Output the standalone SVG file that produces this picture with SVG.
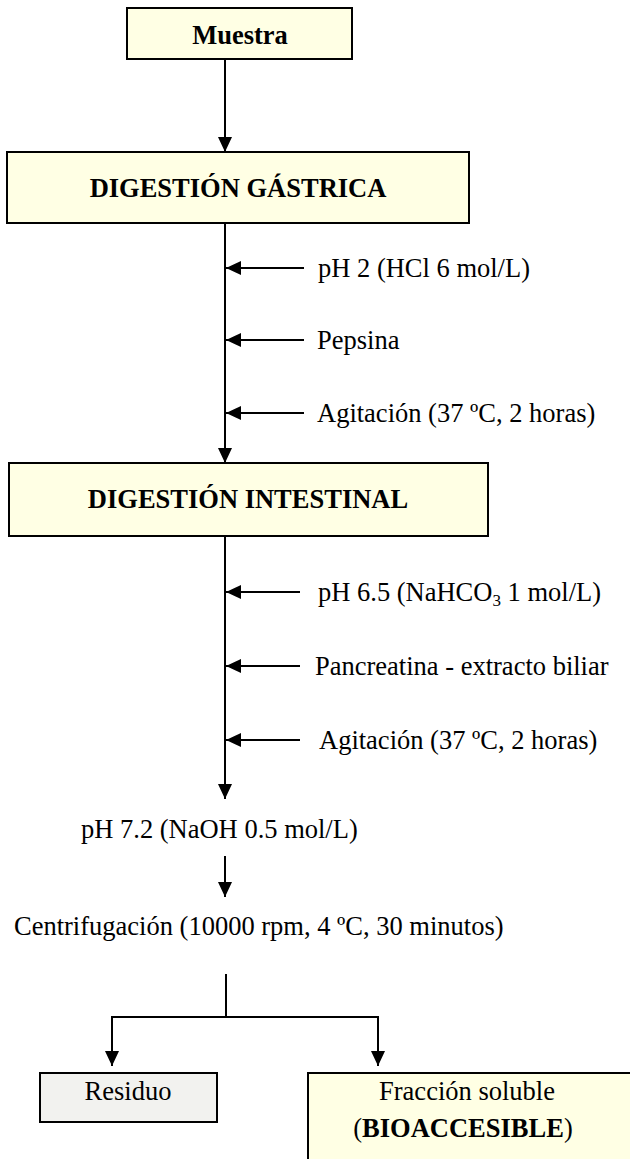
<svg xmlns="http://www.w3.org/2000/svg" width="630" height="1159" viewBox="0 0 630 1159">
<style>
.box{fill:#ffffe4;stroke:#000;stroke-width:2}
.gray{fill:#f2f2ef;stroke:#000;stroke-width:2}
.t{font-family:"Liberation Serif","Times New Roman",serif;font-size:26.5px;fill:#000}
.b{font-weight:bold}
.c{text-anchor:middle}
.ln{stroke:#000;stroke-width:2;fill:none}
</style>
<defs>
<marker id="ah" viewBox="0 0 15 14" refX="15" refY="7" markerWidth="15" markerHeight="14" markerUnits="userSpaceOnUse" orient="auto">
<path d="M0,0 L15,7 L0,14 z" fill="#000"/>
</marker>
</defs>
<g id="connectors">
<line class="ln" x1="225" y1="59" x2="225" y2="152" marker-end="url(#ah)"/>
<line class="ln" x1="225" y1="223" x2="225" y2="463" marker-end="url(#ah)"/>
<line class="ln" x1="304" y1="268" x2="226" y2="268" marker-end="url(#ah)"/>
<line class="ln" x1="304" y1="340" x2="226" y2="340" marker-end="url(#ah)"/>
<line class="ln" x1="304" y1="413" x2="226" y2="413" marker-end="url(#ah)"/>
<line class="ln" x1="225" y1="536" x2="225" y2="799" marker-end="url(#ah)"/>
<line class="ln" x1="300" y1="592" x2="226" y2="592" marker-end="url(#ah)"/>
<line class="ln" x1="300" y1="666" x2="226" y2="666" marker-end="url(#ah)"/>
<line class="ln" x1="300" y1="740" x2="226" y2="740" marker-end="url(#ah)"/>
<line class="ln" x1="225" y1="856" x2="225" y2="897" marker-end="url(#ah)"/>
<line class="ln" x1="226" y1="974" x2="226" y2="1017"/>
<polyline class="ln" points="226,1017 112,1017 112,1066" marker-end="url(#ah)"/>
<polyline class="ln" points="226,1017 378,1017 378,1066" marker-end="url(#ah)"/>
</g>
<g id="muestra">
<rect class="box" x="127" y="8" width="225" height="51"/>
<text class="t b c" x="240" y="44">Muestra</text>
</g>
<g id="gastrica">
<rect class="box" x="7" y="152" width="462" height="71"/>
<text class="t b c" x="238" y="197">DIGESTIÓN GÁSTRICA</text>
</g>
<g id="lbl-gastrica">
<text class="t" x="318" y="277">pH 2 (HCl 6 mol/L)</text>
<text class="t" x="317" y="349">Pepsina</text>
<text class="t" x="317" y="422">Agitación (37 ºC, 2 horas)</text>
</g>
<g id="intestinal">
<rect class="box" x="9" y="463" width="479" height="73"/>
<text class="t b c" x="248" y="508">DIGESTIÓN INTESTINAL</text>
</g>
<g id="lbl-intestinal">
<text class="t" x="318" y="601">pH 6.5 (NaHCO<tspan font-size="17" dy="5">3</tspan><tspan dy="-5"> 1 mol/L)</tspan></text>
<text class="t" x="315" y="675">Pancreatina - extracto biliar</text>
<text class="t" x="319" y="749">Agitación (37 ºC, 2 horas)</text>
</g>
<g id="ph72">
<text class="t" x="81" y="838">pH 7.2 (NaOH 0.5 mol/L)</text>
</g>
<g id="centrifugacion">
<text class="t" x="14" y="935">Centrifugación (10000 rpm, 4 ºC, 30 minutos)</text>
</g>
<g id="residuo">
<rect class="gray" x="40" y="1073" width="177" height="49"/>
<text class="t c" x="128" y="1100">Residuo</text>
</g>
<g id="fraccion">
<rect class="box" x="308" y="1073" width="340" height="100"/>
<text class="t c" x="467" y="1100">Fracción soluble</text>
<text class="t c" x="463" y="1137">(<tspan class="b">BIOACCESIBLE</tspan>)</text>
</g>
</svg>
